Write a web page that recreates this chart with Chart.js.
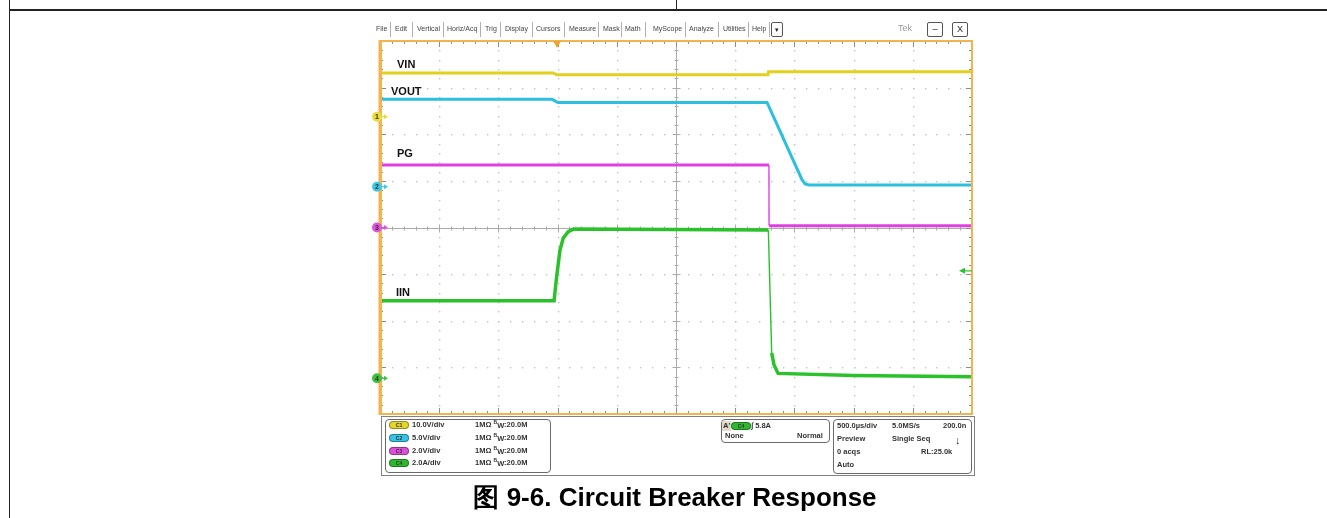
<!DOCTYPE html>
<html>
<head>
<meta charset="utf-8">
<script src="https://cdn.jsdelivr.net/npm/chart.js@4.4.1/dist/chart.umd.min.js"></script>
<style>
  html, body { margin: 0; padding: 0; background: #fff; }
  #page { position: relative; width: 1327px; height: 518px; overflow: hidden;
          font-family: 'Liberation Sans', Arial, sans-serif; }
  #scope { position: absolute; left: 0; top: 0; }
  .line { position: absolute; background: #222; }
  .menu { position: absolute; top: 24px; font-size: 7px; line-height: 10px; color: #444; white-space: nowrap; }
  .sep { position: absolute; top: 22px; width: 1px; height: 15px; background: #b0b0b0; }
  .btn { position: absolute; top: 22px; height: 13px; border: 1px solid #555; border-radius: 2px;
         font-size: 9px; line-height: 13px; text-align: center; color: #222; background: #fff; }
  .trace { position: absolute; font-size: 11px; font-weight: bold; line-height: 12px; color: #111; }
  .frame { position: absolute; border: 1px solid #808080; }
  .box { position: absolute; border: 1px solid #6a6a6a; border-radius: 4px; background: #fff; }
  .info { position: absolute; font-size: 7.5px; font-weight: bold; line-height: 10px; color: #333; white-space: nowrap; }
  .info .b { position: relative; top: -3px; font-size: 5px; }
  .info .w { position: relative; top: 1px; }
  .pill { position: absolute; width: 18px; height: 6px; border-radius: 4px; border: 1px solid rgba(0,0,0,0.35);
          font-size: 5px; line-height: 6px; text-align: center; color: #333; font-weight: bold; }
  #title { position: absolute; left: 275px; width: 800px; top: 482px; text-align: center;
           font-size: 26px; font-weight: bold; line-height: 30px; color: #000; }
</style>
</head>
<body>
<div id="page">
  <canvas id="scope" width="1327" height="518"></canvas>

  <!-- document table rules -->
  <div class="line" style="left:9px;top:0;width:1px;height:518px;"></div>
  <div class="line" style="left:9px;top:9px;width:1318px;height:1.5px;"></div>
  <div class="line" style="left:676px;top:0;width:1px;height:10px;"></div>

  <!-- instrument menu bar -->
  <div class="menu" style="left:376px">File</div>
  <div class="sep" style="left:390px"></div>
  <div class="menu" style="left:395px">Edit</div>
  <div class="sep" style="left:412px"></div>
  <div class="menu" style="left:417px">Vertical</div>
  <div class="sep" style="left:443px"></div>
  <div class="menu" style="left:447px">Horiz/Acq</div>
  <div class="sep" style="left:480px"></div>
  <div class="menu" style="left:485px">Trig</div>
  <div class="sep" style="left:500px"></div>
  <div class="menu" style="left:505px">Display</div>
  <div class="sep" style="left:532px"></div>
  <div class="menu" style="left:536px">Cursors</div>
  <div class="sep" style="left:564px"></div>
  <div class="menu" style="left:569px">Measure</div>
  <div class="sep" style="left:598px"></div>
  <div class="menu" style="left:603px">Mask</div>
  <div class="sep" style="left:621px"></div>
  <div class="menu" style="left:625px">Math</div>
  <div class="sep" style="left:645px"></div>
  <div class="menu" style="left:653px">MyScope</div>
  <div class="sep" style="left:685px"></div>
  <div class="menu" style="left:689px">Analyze</div>
  <div class="sep" style="left:718px"></div>
  <div class="menu" style="left:723px">Utilities</div>
  <div class="sep" style="left:748px"></div>
  <div class="menu" style="left:752px">Help</div>
  <div class="sep" style="left:769px"></div>
  <div class="btn" style="left:771px;width:10px;font-size:7px;">&#9662;</div>
  <div class="menu" style="left:898px;font-size:9px;color:#9a9a9a;top:23px;">Tek</div>
  <div class="btn" style="left:927px;width:14px;">&#8211;</div>
  <div class="btn" style="left:952px;width:14px;">X</div>

  <!-- trace names -->
  <div class="trace" style="left:397px;top:58px;">VIN</div>
  <div class="trace" style="left:391px;top:85px;">VOUT</div>
  <div class="trace" style="left:397px;top:147px;">PG</div>
  <div class="trace" style="left:396px;top:286px;">IIN</div>

  <!-- readout panel -->
  <div class="frame" style="left:381px;top:416px;width:592px;height:58px;"></div>
  <div class="box" style="left:385px;top:419px;width:164px;height:52px;"></div>
  <div class="box" style="left:721px;top:419px;width:107px;height:22px;"></div>
  <div class="box" style="left:833px;top:419px;width:137px;height:53px;"></div>

  <div class="pill" style="left:389px;top:421px;background:#e6d62a;">C1</div>
  <div class="pill" style="left:389px;top:434px;background:#35c3e6;">C2</div>
  <div class="pill" style="left:389px;top:447px;background:#dd4fdd;">C3</div>
  <div class="pill" style="left:389px;top:459px;background:#2fb82f;">C4</div>
  <div class="info" style="left:412px;top:420px;">10.0V/div</div>
  <div class="info" style="left:412px;top:433px;">5.0V/div</div>
  <div class="info" style="left:412px;top:446px;">2.0V/div</div>
  <div class="info" style="left:412px;top:458px;">2.0A/div</div>
  <div class="info" style="left:475px;top:420px;">1M&Omega; <span class="b">B</span><span class="w">W</span>:20.0M</div>
  <div class="info" style="left:475px;top:433px;">1M&Omega; <span class="b">B</span><span class="w">W</span>:20.0M</div>
  <div class="info" style="left:475px;top:446px;">1M&Omega; <span class="b">B</span><span class="w">W</span>:20.0M</div>
  <div class="info" style="left:475px;top:458px;">1M&Omega; <span class="b">B</span><span class="w">W</span>:20.0M</div>

  <div class="info" style="left:722px;top:421px;background:#e4dccb;padding:0 1px;">A'</div>
  <div class="pill" style="left:731px;top:422px;background:#2fb82f;">C4</div>
  <div class="info" style="left:751px;top:421px;">&#8747; 5.8A</div>
  <div class="info" style="left:725px;top:431px;">None</div>
  <div class="info" style="left:797px;top:431px;">Normal</div>

  <div class="info" style="left:837px;top:421px;">500.0&micro;s/div</div>
  <div class="info" style="left:892px;top:421px;">5.0MS/s</div>
  <div class="info" style="left:943px;top:421px;">200.0n</div>
  <div class="info" style="left:837px;top:434px;">Preview</div>
  <div class="info" style="left:892px;top:434px;">Single Seq</div>
  <div class="info" style="left:955px;top:434px;font-size:11px;line-height:12px;">&#8595;</div>
  <div class="info" style="left:837px;top:447px;">0 acqs</div>
  <div class="info" style="left:921px;top:447px;">RL:25.0k</div>
  <div class="info" style="left:837px;top:460px;">Auto</div>

  <div id="title">图 9-6. Circuit Breaker Response</div>
</div>

<script>
// Horizontal: 500 us per division, 10 divisions, centred on zero.
const usPerDiv = 500;
const xDivisions = 10;
const yDivisions = 8;

// Per-channel vertical settings (units per division, ground marker in divisions).
const channelNames = ['VIN', 'VOUT', 'PG', 'IIN'];
const channelScales = [10, 5, 2, 2];
const channelOffsets = [2.376, 0.875, 0, -3.234];
const channelColors = ['#e2d01c', '#2cbfe0', '#e23fe2', '#2ac22a'];
const markerColors = ['#e9dc3c', '#3ec8e8', '#e052e0', '#3cc23c'];
const traceWidths = [3, 3, 3, 3.5];

// VIN (V)
const vinTime  = [-2483, -1039, -1005, 777, 781, 2500];
const vinValue = [9.4, 9.4, 9.0, 9.0, 9.65, 9.65];
// VOUT (V)
const voutTime  = [-2483, -1047, -997, 769, 1064, 1090, 1125, 2500];
const voutValue = [9.37, 9.37, 9.03, 9.03, 0.75, 0.3, 0.18, 0.18];
// PG (V)
const pgTime  = [-2483, 785, 786, 2500];
const pgValue = [2.68, 2.68, 0.08, 0.08];
// IIN (A)
const iinTime  = [-2483, -1030, -1008, -980, -952, -910, -867, 780, 808, 828, 862, 1500, 2500];
const iinValue = [3.33, 3.33, 4.36, 5.50, 6.02, 6.29, 6.40, 6.36, 1.09, 0.57, 0.21, 0.12, 0.07];

// Trigger position (us) and the level arrow on the right edge (divisions)
const triggerTime = -1005;
const levelArrowDiv = -0.93;

const seriesTimes = [vinTime, voutTime, pgTime, iinTime];
const seriesValues = [vinValue, voutValue, pgValue, iinValue];

// Convert each channel to screen divisions using its scale and ground marker.
// Near-vertical edges are drawn thin, as the noise band only widens flat runs.
const datasets = channelNames.map((name, i) => {
  const W = traceWidths[i];
  return {
    label: name,
    data: seriesTimes[i].map((t, k) => ({ x: t, y: seriesValues[i][k] / channelScales[i] + channelOffsets[i] })),
    borderColor: channelColors[i],
    borderWidth: W,
    pointRadius: 0,
    tension: 0,
    fill: false,
    segment: {
      borderWidth: ctx => {
        const dx = Math.abs(ctx.p1.x - ctx.p0.x), dy = Math.abs(ctx.p1.y - ctx.p0.y);
        return dy > 10 * Math.max(dx, 0.01) ? 1.4 : W;
      }
    }
  };
});

const scopeFrame = {
  id: 'scopeFrame',
  beforeDatasetsDraw(chart) {
    const { ctx, chartArea: a, scales } = chart;
    const X = d => scales.x.getPixelForValue(d * usPerDiv);
    const Y = d => scales.y.getPixelForValue(d);
    const hx = xDivisions / 2, hy = yDivisions / 2;
    ctx.save();
    // dotted graticule
    ctx.fillStyle = '#c3c3c3';
    for (let i = -hx + 1; i <= hx - 1; i++) {
      if (i === 0) continue;
      const px = Math.round(X(i));
      for (let k = -hy * 5 + 1; k <= hy * 5 - 1; k++) {
        const py = Math.round(Y(k / 5));
        ctx.fillRect(px, py, 1.4, 1.4);
      }
    }
    for (let j = -hy + 1; j <= hy - 1; j++) {
      if (j === 0) continue;
      const py = Math.round(Y(j));
      for (let m = -hx * 5 + 1; m <= hx * 5 - 1; m++) {
        const px = Math.round(X(m / 5));
        ctx.fillRect(px, py, 1.4, 1.4);
      }
    }
    // centre crosshair with minor ticks
    ctx.strokeStyle = '#ababab';
    ctx.lineWidth = 1;
    const cx = Math.round(X(0)) + 0.5, cy = Math.round(Y(0)) + 0.5;
    ctx.beginPath();
    ctx.moveTo(a.left, cy); ctx.lineTo(a.right, cy);
    ctx.moveTo(cx, a.top); ctx.lineTo(cx, a.bottom);
    for (let m = -hx * 5 + 1; m <= hx * 5 - 1; m++) {
      const px = Math.round(X(m / 5)) + 0.5, h = m % 5 === 0 ? 4 : 2;
      ctx.moveTo(px, cy - h); ctx.lineTo(px, cy + h);
    }
    for (let k = -hy * 5 + 1; k <= hy * 5 - 1; k++) {
      const py = Math.round(Y(k / 5)) + 0.5, h = k % 5 === 0 ? 4 : 2;
      ctx.moveTo(cx - h, py); ctx.lineTo(cx + h, py);
    }
    ctx.stroke();
    // edge ticks
    ctx.strokeStyle = '#8c8c8c';
    ctx.beginPath();
    for (let m = -hx * 5 + 1; m <= hx * 5 - 1; m++) {
      const px = Math.round(X(m / 5)) + 0.5, h = m % 5 === 0 ? 6 : 3;
      ctx.moveTo(px, a.top); ctx.lineTo(px, a.top + h);
      ctx.moveTo(px, a.bottom); ctx.lineTo(px, a.bottom - h);
    }
    for (let k = -hy * 5 + 1; k <= hy * 5 - 1; k++) {
      const py = Math.round(Y(k / 5)) + 0.5, h = k % 5 === 0 ? 6 : 3;
      ctx.moveTo(a.left, py); ctx.lineTo(a.left + h, py);
      ctx.moveTo(a.right, py); ctx.lineTo(a.right - h, py);
    }
    ctx.stroke();
    ctx.restore();
  },
  afterDatasetsDraw(chart) {
    const { ctx, chartArea: a, scales } = chart;
    const Y = d => scales.y.getPixelForValue(d);
    ctx.save();
    // amber screen border, heavier on the left
    ctx.strokeStyle = '#f2b44f';
    ctx.lineWidth = 2;
    ctx.strokeRect(a.left, a.top, a.right - a.left, a.bottom - a.top);
    ctx.fillStyle = '#f2b44f';
    ctx.fillRect(a.left - 1.5, a.top - 1, 3.5, a.bottom - a.top + 2);

    // trigger position marker
    const tx = scales.x.getPixelForValue(triggerTime);
    ctx.fillStyle = '#f0a428';
    ctx.beginPath();
    ctx.moveTo(tx - 4, a.top); ctx.lineTo(tx + 4, a.top); ctx.lineTo(tx, a.top + 7);
    ctx.closePath(); ctx.fill();

    // trigger level arrow
    const ly = Y(levelArrowDiv);
    ctx.strokeStyle = channelColors[3]; ctx.fillStyle = channelColors[3]; ctx.lineWidth = 1.2;
    ctx.beginPath(); ctx.moveTo(a.right - 8, ly); ctx.lineTo(a.right, ly); ctx.stroke();
    ctx.beginPath(); ctx.moveTo(a.right - 13, ly); ctx.lineTo(a.right - 7, ly - 3); ctx.lineTo(a.right - 7, ly + 3);
    ctx.closePath(); ctx.fill();

    // channel ground markers
    channelOffsets.forEach((off, i) => {
      const py = Y(off), px = a.left - 3;
      ctx.fillStyle = markerColors[i];
      ctx.strokeStyle = markerColors[i];
      ctx.lineWidth = 1.2;
      ctx.beginPath(); ctx.moveTo(px + 4, py); ctx.lineTo(px + 9, py); ctx.stroke();
      ctx.beginPath(); ctx.moveTo(px + 11, py); ctx.lineTo(px + 7, py - 2.5); ctx.lineTo(px + 7, py + 2.5);
      ctx.closePath(); ctx.fill();
      ctx.beginPath(); ctx.arc(px, py, 5, 0, Math.PI * 2); ctx.fill();
      ctx.fillStyle = '#333';
      ctx.font = 'bold 7px "Liberation Sans", Arial, sans-serif';
      ctx.textAlign = 'center'; ctx.textBaseline = 'middle';
      ctx.fillText(String(i + 1), px, py + 0.5);
    });
    ctx.restore();
  }
};

new Chart(document.getElementById('scope'), {
  type: 'line',
  data: { datasets },
  options: {
    responsive: false,
    animation: false,
    devicePixelRatio: 1,
    layout: { padding: { left: 380, right: 355, top: 41, bottom: 104 } },
    scales: {
      x: { type: 'linear', min: -usPerDiv * xDivisions / 2, max: usPerDiv * xDivisions / 2, display: false },
      y: { type: 'linear', min: -yDivisions / 2, max: yDivisions / 2, display: false }
    },
    plugins: { legend: { display: false }, tooltip: { enabled: false } }
  },
  plugins: [scopeFrame]
});
</script>
</body>
</html>
